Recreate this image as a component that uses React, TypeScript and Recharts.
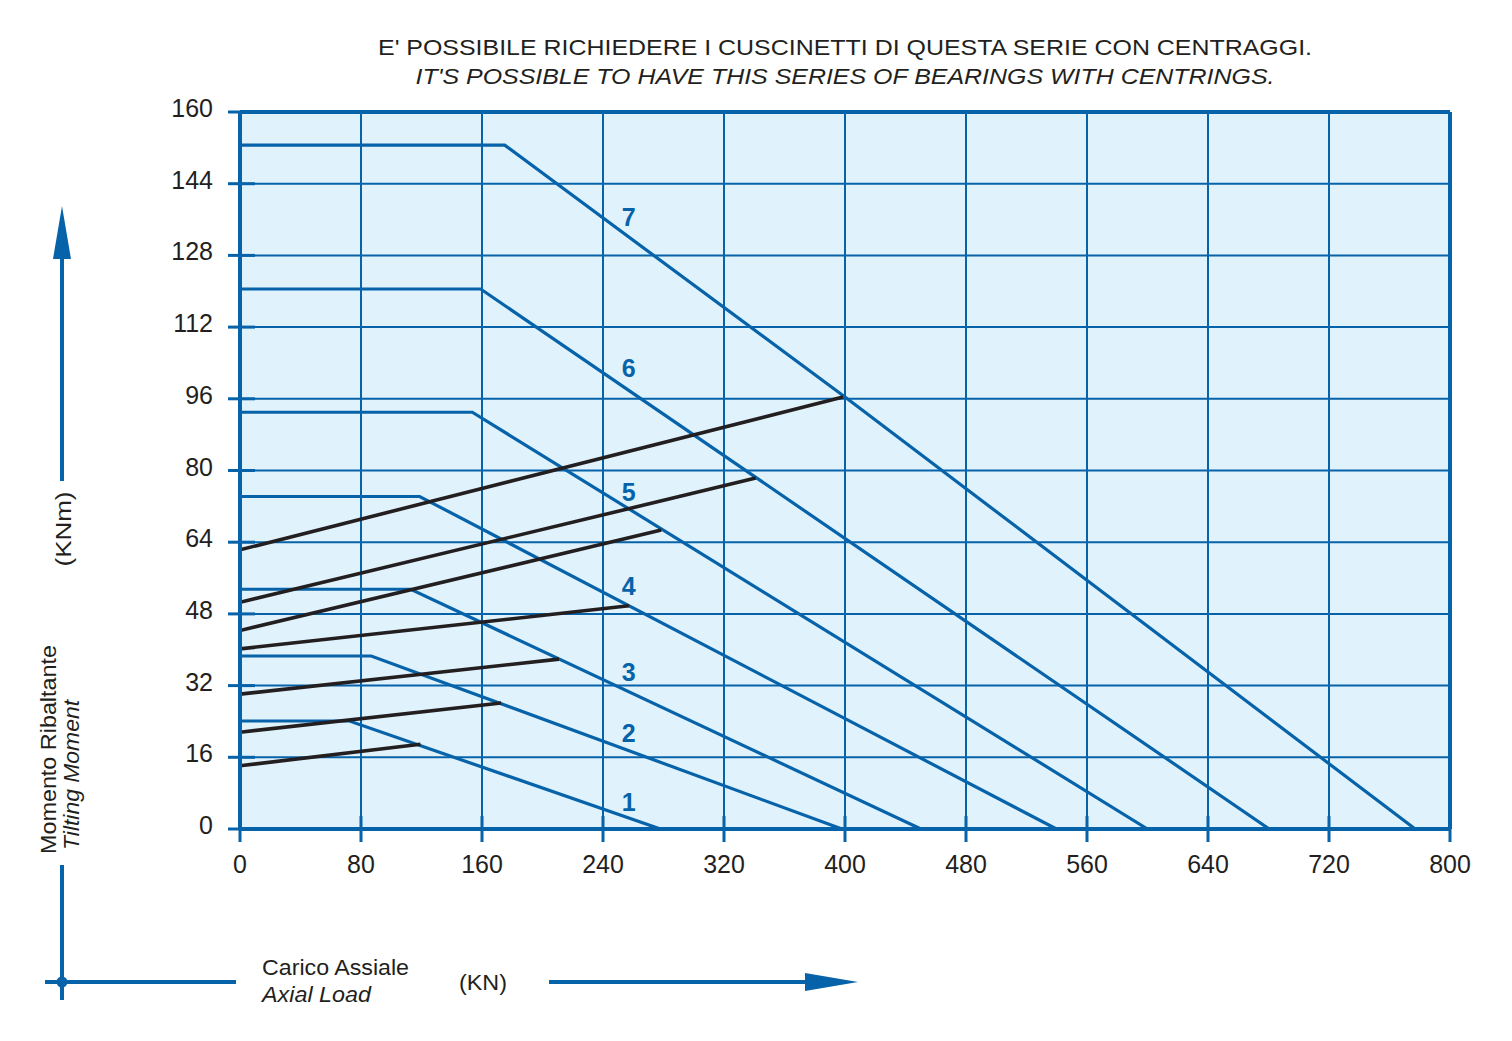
import React from 'react';
import {
  ComposedChart,
  Line,
  Scatter,
  XAxis,
  YAxis,
  CartesianGrid,
  ReferenceLine,
} from 'recharts';

// ---------- data ----------
const xTicks = [0, 80, 160, 240, 320, 400, 480, 560, 640, 720, 800];
const yTicks = [0, 16, 32, 48, 64, 80, 96, 112, 128, 144, 160];

// blue limit curves (axial load KN, tilting moment KNm)
const curve1 = [
  { x: 0, m: 24.1 },
  { x: 72.4, m: 24.1 },
  { x: 278, m: 0 },
];
const curve2 = [
  { x: 0, m: 38.6 },
  { x: 86.8, m: 38.6 },
  { x: 398, m: 0 },
];
const curve3 = [
  { x: 0, m: 53.5 },
  { x: 112.9, m: 53.5 },
  { x: 450.2, m: 0 },
];
const curve4 = [
  { x: 0, m: 74.2 },
  { x: 118.8, m: 74.2 },
  { x: 539.8, m: 0 },
];
const curve5 = [
  { x: 0, m: 93 },
  { x: 153.6, m: 93 },
  { x: 600, m: 0 },
];
const curve6 = [
  { x: 0, m: 120.5 },
  { x: 159.1, m: 120.5 },
  { x: 680.5, m: 0 },
];
const curve7 = [
  { x: 0, m: 152.6 },
  { x: 175, m: 152.6 },
  { x: 400, m: 96.4 },
  { x: 777, m: 0 },
];

// black lines
const lineA = [
  { x: 0, m: 14.1 },
  { x: 119.3, m: 18.9 },
];
const lineB = [
  { x: 0, m: 21.6 },
  { x: 172.7, m: 28.1 },
];
const lineC = [
  { x: 0, m: 30.1 },
  { x: 210.9, m: 37.9 },
];
const lineD = [
  { x: 0, m: 40.2 },
  { x: 257.2, m: 49.8 },
];
const lineE = [
  { x: 0, m: 44.3 },
  { x: 278.5, m: 66.7 },
];
const lineF = [
  { x: 0, m: 50.6 },
  { x: 341, m: 78.3 },
];
const lineG = [
  { x: 0, m: 62.3 },
  { x: 398.7, m: 96.4 },
];

const curveLabels = [
  { x: 257, m: 6.1, label: '1' },
  { x: 257, m: 21.4, label: '2' },
  { x: 257, m: 35.1, label: '3' },
  { x: 257, m: 54.3, label: '4' },
  { x: 257, m: 75.3, label: '5' },
  { x: 257, m: 102.8, label: '6' },
  { x: 257, m: 136.5, label: '7' },
];

const blueCurves = [curve1, curve2, curve3, curve4, curve5, curve6, curve7];
const blackLines = [lineA, lineB, lineC, lineD, lineE, lineF, lineG];

// ---------- style ----------
const BLUE = '#0763a9';
const BLACK = '#231f20';
const TEXT = '#231f20';
const BG = '#e0f2fc';
const FONT = '"Liberation Sans", Arial, Helvetica, sans-serif';

const W = 1496;
const H = 1025;

const YTick = (props: any) => {
  const { x, y, payload } = props;
  return (
    <g>
      <line x1={x - 12} x2={x + 15} y1={y} y2={y} stroke={BLUE} strokeWidth={3} />
      <text
        x={x - 27}
        y={y + 5}
        textAnchor="end"
        fontSize={25}
        fontFamily={FONT}
        fill={TEXT}
      >
        {payload.value}
      </text>
    </g>
  );
};

const XTick = (props: any) => {
  const { x, y, payload } = props;
  return (
    <g>
      <line x1={x} x2={x} y1={y - 13} y2={y + 13} stroke={BLUE} strokeWidth={3} />
      <text
        x={x}
        y={y + 44}
        textAnchor="middle"
        fontSize={25}
        fontFamily={FONT}
        fill={TEXT}
      >
        {payload.value}
      </text>
    </g>
  );
};

const LabelShape = (props: any) => {
  const { cx, cy, payload } = props;
  return (
    <text
      x={cx}
      y={cy + 9}
      textAnchor="middle"
      fontSize={25}
      fontWeight="bold"
      fontFamily={FONT}
      fill={BLUE}
    >
      {payload.label}
    </text>
  );
};

const Overlay = () => (
  <svg
    width={W}
    height={H}
    style={{ position: 'absolute', left: 0, top: 0, pointerEvents: 'none' }}
  >
    <g transform="translate(-8,-8)" fontFamily={FONT} fill={TEXT}>
      <text x={845} y={55} textAnchor="middle" fontSize={22} textLength={934} lengthAdjust="spacingAndGlyphs">
        E' POSSIBILE RICHIEDERE I CUSCINETTI DI QUESTA SERIE CON CENTRAGGI.
      </text>
      <text x={845} y={84} textAnchor="middle" fontSize={22} fontStyle="italic" textLength={859} lengthAdjust="spacingAndGlyphs">
        IT'S POSSIBLE TO HAVE THIS SERIES OF BEARINGS WITH CENTRINGS.
      </text>

      {/* vertical arrow */}
      <line x1={62} x2={62} y1={481} y2={250} stroke={BLUE} strokeWidth={4} />
      <polygon points="62,206 53,259 71,259" fill={BLUE} />
      <text transform="translate(71,529) rotate(-90)" textAnchor="middle" fontSize={22} textLength={75} lengthAdjust="spacingAndGlyphs">
        (KNm)
      </text>
      <text transform="translate(56,749.5) rotate(-90)" textAnchor="middle" fontSize={22} textLength={209} lengthAdjust="spacingAndGlyphs">
        Momento Ribaltante
      </text>
      <text transform="translate(78.5,775) rotate(-90)" textAnchor="middle" fontSize={22} fontStyle="italic" textLength={150} lengthAdjust="spacingAndGlyphs">
        Tilting Moment
      </text>

      {/* corner */}
      <line x1={62} x2={62} y1={865} y2={1000} stroke={BLUE} strokeWidth={4} />
      <line x1={45} x2={236} y1={982} y2={982} stroke={BLUE} strokeWidth={4} />
      <circle cx={62} cy={982} r={5.5} fill={BLUE} />

      <text x={262} y={975} fontSize={22} textLength={147} lengthAdjust="spacingAndGlyphs">
        Carico Assiale
      </text>
      <text x={262} y={1002} fontSize={22} fontStyle="italic" textLength={109} lengthAdjust="spacingAndGlyphs">
        Axial Load
      </text>
      <text x={459} y={990} fontSize={22} textLength={48} lengthAdjust="spacingAndGlyphs">
        (KN)
      </text>

      {/* horizontal arrow */}
      <line x1={549} x2={810} y1={982} y2={982} stroke={BLUE} strokeWidth={4} />
      <polygon points="805,973 858,982 805,991" fill={BLUE} />
    </g>
  </svg>
);

export default function App() {
  return (
    <div style={{ position: 'relative', width: W, height: H }}>
      <ComposedChart
        width={W}
        height={H}
        margin={{ top: 104, right: 54, bottom: 174, left: 172 }}
      >
        <CartesianGrid
          fill={BG}
          fillOpacity={1}
          stroke={BLUE}
          strokeWidth={2}
          strokeOpacity={1}
        />
        <XAxis
          type="number"
          dataKey="x"
          domain={[0, 800]}
          ticks={xTicks}
          interval={0}
          height={30}
          tickLine={false}
          tickSize={0}
          tickMargin={0}
          tick={<XTick />}
          axisLine={{ stroke: BLUE, strokeWidth: 4 }}
          allowDataOverflow
        />
        <YAxis
          type="number"
          dataKey="m"
          domain={[0, 160]}
          ticks={yTicks}
          interval={0}
          width={60}
          tickLine={false}
          tickSize={0}
          tickMargin={0}
          tick={<YTick />}
          axisLine={{ stroke: BLUE, strokeWidth: 4 }}
          allowDataOverflow
        />
        <ReferenceLine y={160} stroke={BLUE} strokeWidth={4} />
        <ReferenceLine x={800} stroke={BLUE} strokeWidth={4} />
        {blueCurves.map((c, i) => (
          <Line
            key={`b${i}`}
            data={c}
            dataKey="m"
            type="linear"
            stroke={BLUE}
            strokeWidth={3.2}
            dot={false}
            activeDot={false}
            isAnimationActive={false}
          />
        ))}
        {blackLines.map((c, i) => (
          <Line
            key={`k${i}`}
            data={c}
            dataKey="m"
            type="linear"
            stroke={BLACK}
            strokeWidth={3.6}
            dot={false}
            activeDot={false}
            isAnimationActive={false}
          />
        ))}
        <Scatter
          data={curveLabels}
          dataKey="m"
          shape={<LabelShape />}
          isAnimationActive={false}
        />
      </ComposedChart>
      <Overlay />
    </div>
  );
}
